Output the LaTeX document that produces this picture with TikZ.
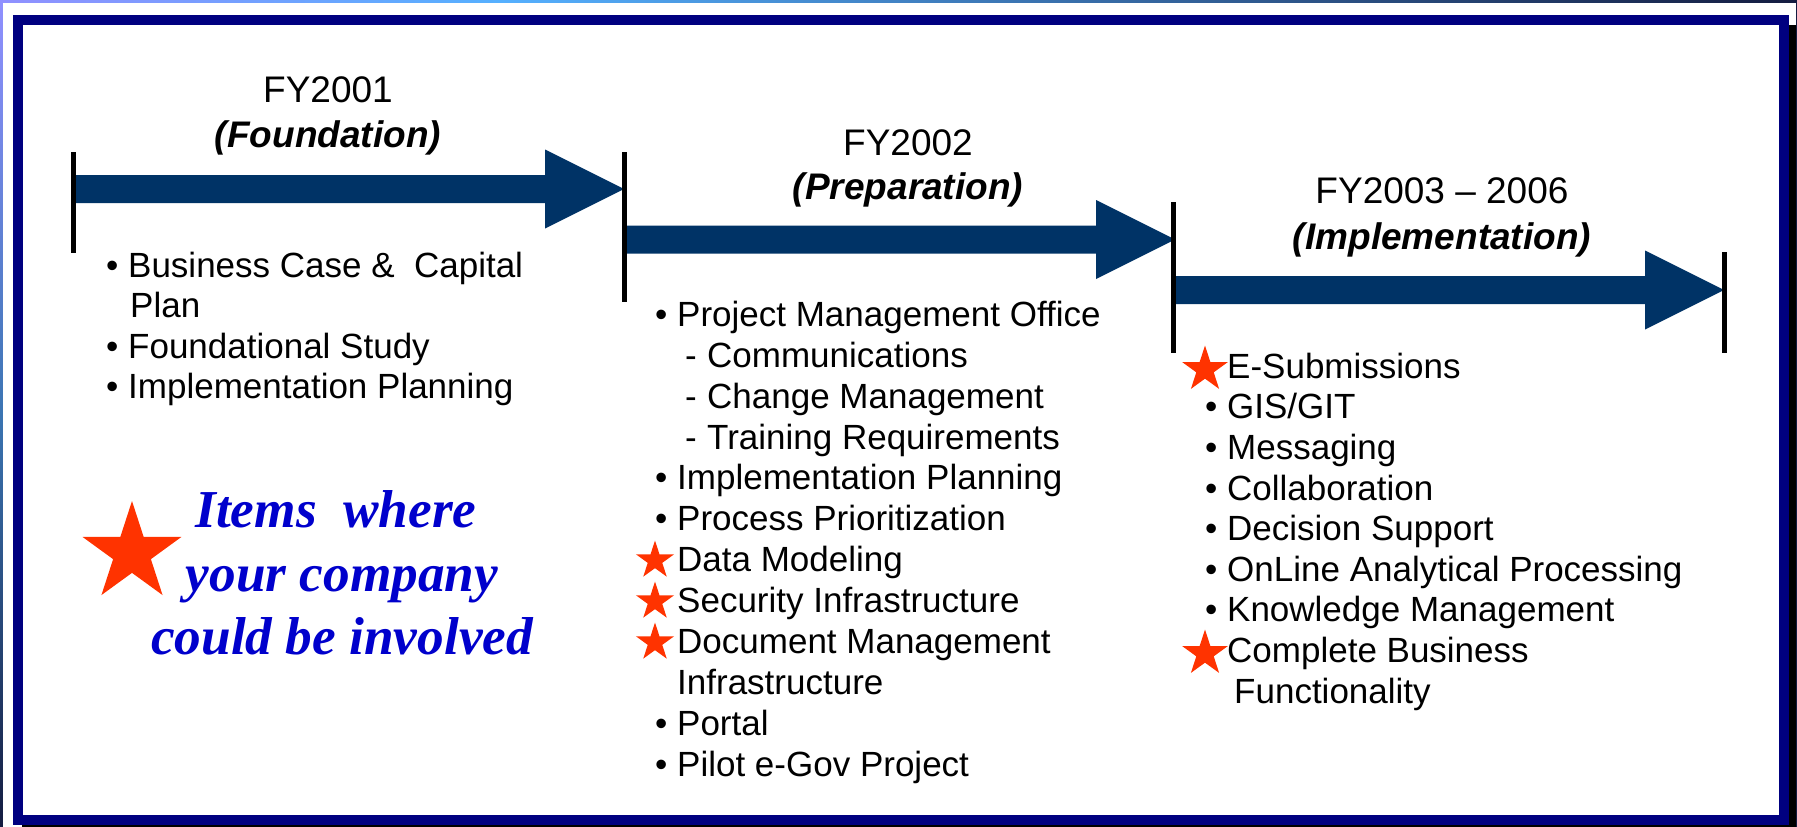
\documentclass[tikz,border=0pt]{standalone}
\usepackage{fontspec}
\setmainfont{Liberation Sans}
\newfontfamily\legendfont{Liberation Serif}
\usetikzlibrary{shapes.geometric}
\definecolor{navyframe}{HTML}{000080}
\definecolor{arrowblue}{HTML}{003366}
\definecolor{starred}{HTML}{FF3300}
\definecolor{legendblue}{HTML}{0000CC}
\definecolor{lav}{HTML}{9090FF}
\definecolor{skyb}{HTML}{55B0FF}
\definecolor{darkedge}{HTML}{141C40}
\tikzset{
  listline/.style={anchor=base west, inner sep=0pt, font=\fontsize{35}{41}\selectfont},
  yeartitle/.style={anchor=base, inner sep=0pt, font=\fontsize{37}{46}\selectfont},
  phasetitle/.style={anchor=base, inner sep=0pt, font=\fontsize{37}{46}\selectfont\bfseries\itshape},
  starmark/.style={star, star points=5, star point ratio=2.618, fill=starred, draw=none, inner sep=0pt, minimum size=#1},
  timebar/.style={line width=5pt, black},
  legendtext/.style={anchor=base, inner sep=0pt, text=legendblue, font=\legendfont\fontsize{53.3}{64}\selectfont\bfseries\itshape},
}
\newcommand\tlarrow[2]{%
  \fill[arrowblue] (#1,#2-14) -- (#1+472,#2-14) -- (#1+472,#2-39.5) -- (#1+551,#2)
    -- (#1+472,#2+39.5) -- (#1+472,#2+14) -- (#1,#2+14) -- cycle;}
\newcommand\bul{\makebox[22pt][l]{•}}
\newcommand\dsh{\makebox[22pt][l]{-}}
\begin{document}
\begin{tikzpicture}[x=1pt,y=-1pt]
\useasboundingbox (0,0) rectangle (1797,827);
% outer gradient edge
\shade[left color=lav, right color=skyb] (0,0) rectangle (500,3);
\shade[left color=skyb, right color=darkedge] (500,0) rectangle (1797,3);
\shade[top color=lav, bottom color=darkedge, middle color=skyb!60!darkedge] (0,0) rectangle (3,827);
\fill[darkedge] (1796,0) rectangle (1797,827);
\fill[white] (3,3) rectangle (1796,827);
% shadow and frame
\fill[black] (22,25) rectangle (1796,832);
\fill[white] (18,20) rectangle (1784,820);
\draw[navyframe, line width=10pt] (18,20) rectangle (1784,820);

% arrows
\tlarrow{73}{189}
\tlarrow{624}{239.5}
\tlarrow{1173}{290}
% bars
\draw[timebar] (73,152) -- (73,253);
\draw[timebar] (624,152) -- (624,302);
\draw[timebar] (1173,202) -- (1173,353);
\draw[timebar] (1724,252) -- (1724,353);

% titles
\node[yeartitle] (t1a) at (328,102) {FY2001};
\node[phasetitle] (t1b) at (328,147) {(Foundation)};
\node[yeartitle] (t2a) at (908,155) {FY2002};
\node[phasetitle] (t2b) at (908,199) {(Preparation)};
\node[yeartitle] (t3a) at (1442,203) {FY2003 – 2006};
\node[phasetitle] (t3b) at (1442,249) {(Implementation)};

% column 1
\node[listline] (c1a) at (106,277.3) {\bul Business Case \&\ \ Capital};
\node[listline] (c1b) at (130,317.8) {Plan};
\node[listline] (c1c) at (106,358.3) {\bul Foundational Study};
\node[listline] (c1d) at (106,398.8) {\bul Implementation Planning};

% column 2
\node[listline] (c2a) at (655,326.3) {\bul Project Management Office};
\node[listline] (c2b) at (685,367.2) {\dsh Communications};
\node[listline] (c2c) at (685,408.1) {\dsh Change Management};
\node[listline] (c2d) at (685,449.0) {\dsh Training Requirements};
\node[listline] (c2e) at (655,489.9) {\bul Implementation Planning};
\node[listline] (c2f) at (655,530.8) {\bul Process Prioritization};
\node[listline] (c2g) at (677,571.7) {Data Modeling};
\node[listline] (c2h) at (677,612.6) {Security Infrastructure};
\node[listline] (c2i) at (677,653.5) {Document Management};
\node[listline] (c2j) at (677,694.4) {Infrastructure};
\node[listline] (c2k) at (655,735.3) {\bul Portal};
\node[listline] (c2l) at (655,776.2) {\bul Pilot e-Gov Project};
\node[starmark=40] (s2g) at (655,560.5) {};
\node[starmark=40] (s2h) at (655,601.5) {};
\node[starmark=40] (s2i) at (655,642.5) {};

% column 3
\node[listline] (c3a) at (1227,378.3) {E-Submissions};
\node[listline] (c3b) at (1205,418.9) {\bul GIS/GIT};
\node[listline] (c3c) at (1205,459.5) {\bul Messaging};
\node[listline] (c3d) at (1205,500.1) {\bul Collaboration};
\node[listline] (c3e) at (1205,540.7) {\bul Decision Support};
\node[listline] (c3f) at (1205,581.3) {\bul OnLine Analytical Processing};
\node[listline] (c3g) at (1205,621.9) {\bul Knowledge Management};
\node[listline] (c3h) at (1227,662.5) {Complete Business};
\node[listline] (c3i) at (1234,703.1) {Functionality};
\node[starmark=48] (s3a) at (1205,369.5) {};
\node[starmark=48] (s3h) at (1205,653.5) {};

% legend
\node[starmark=104] (legstar) at (132,553) {};
\node[legendtext] (lg1) at (336,527) {Items\ \ where};
\node[legendtext] (lg2) at (342,591) {your company};
\node[legendtext] (lg3) at (342,654) {could be involved};
\end{tikzpicture}
\end{document}
